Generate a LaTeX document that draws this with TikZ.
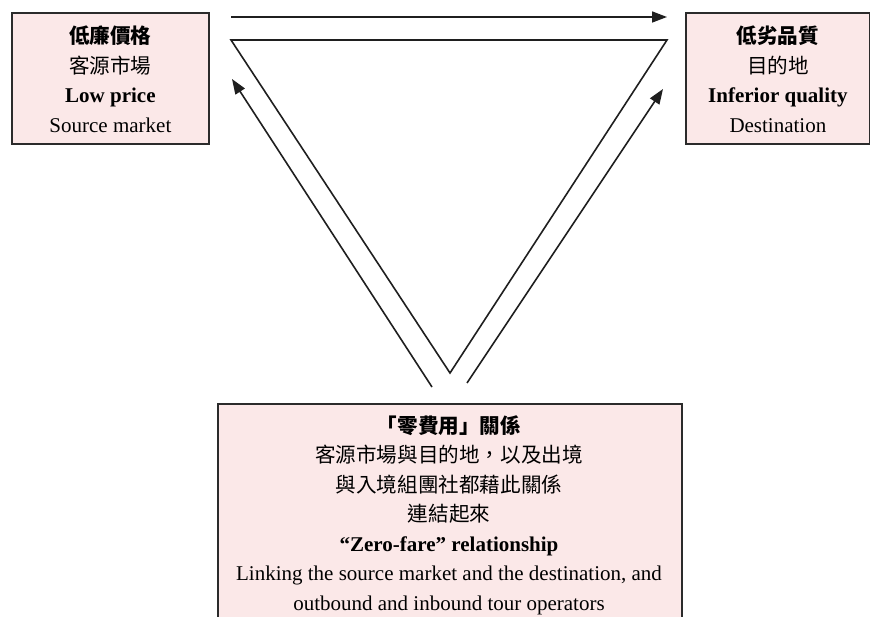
\documentclass[tikz,border=0pt]{standalone}
\usepackage{fontspec}
\setmainfont{Liberation Serif}
\newfontfamily\cjk[Scale=0.98]{Noto Sans CJK TC}
\usetikzlibrary{arrows.meta}
\definecolor{boxfill}{HTML}{FBE8E8}
\definecolor{boxline}{HTML}{2B2B2B}
\begin{document}
\begin{tikzpicture}[x=1pt,y=-1pt,
  box/.style={draw=boxline, line width=1.8pt, fill=boxfill},
  txt/.style={align=center, inner sep=0pt, font=\fontsize{21}{29.5}\selectfont},
  conn/.style={line width=1.6pt, draw=black!88},
  arr/.style={conn, -{Triangle[length=15pt,width=11pt]}}]
\useasboundingbox (0,0) rectangle (870,617);
\clip (0,0) rectangle (870,617);
% boxes
\node[box, anchor=north west, minimum width=197pt, minimum height=131pt] (low) at (11,12) {};
\node[txt] (lowt) at ([yshift=-1pt]low.center) {{\cjk\bfseries 低廉價格}\\{\cjk 客源市場}\\\textbf{Low price}\\Source market};
\node[box, anchor=north west, minimum width=184pt, minimum height=131pt] (inf) at (685,12) {};
\node[txt] (inft) at ([yshift=-1pt]inf.center) {{\cjk\bfseries 低劣品質}\\{\cjk 目的地}\\\textbf{Inferior quality}\\Destination};
\node[box, anchor=north west, minimum width=464pt, minimum height=260pt] (zf) at (217,403) {};
\node[txt, anchor=north] (zft) at (449,415) {{\cjk\bfseries 「零費用」關係}\\{\cjk 客源市場與目的地，以及出境}\\{\cjk 與入境組團社都藉此關係}\\{\cjk 連結起來}\\\textbf{“Zero-fare” relationship}\\Linking the source market and the destination, and\\outbound and inbound tour operators};
% triangle
\coordinate (tl) at (231,40);
\coordinate (tr) at (667,40);
\coordinate (tb) at (450,373);
\draw[conn, line join=miter] (tl) -- (tr) -- (tb) -- cycle;
% arrows
\coordinate (a1s) at (231,17);
\coordinate (a1e) at (667,17);
\draw[arr] (a1s) -- (a1e);
\coordinate (a2s) at (432,387);
\coordinate (a2e) at (232,79);
\draw[arr] (a2s) -- (a2e);
\coordinate (a3s) at (467,383);
\coordinate (a3e) at (663,89);
\draw[arr] (a3s) -- (a3e);
\end{tikzpicture}
\end{document}
